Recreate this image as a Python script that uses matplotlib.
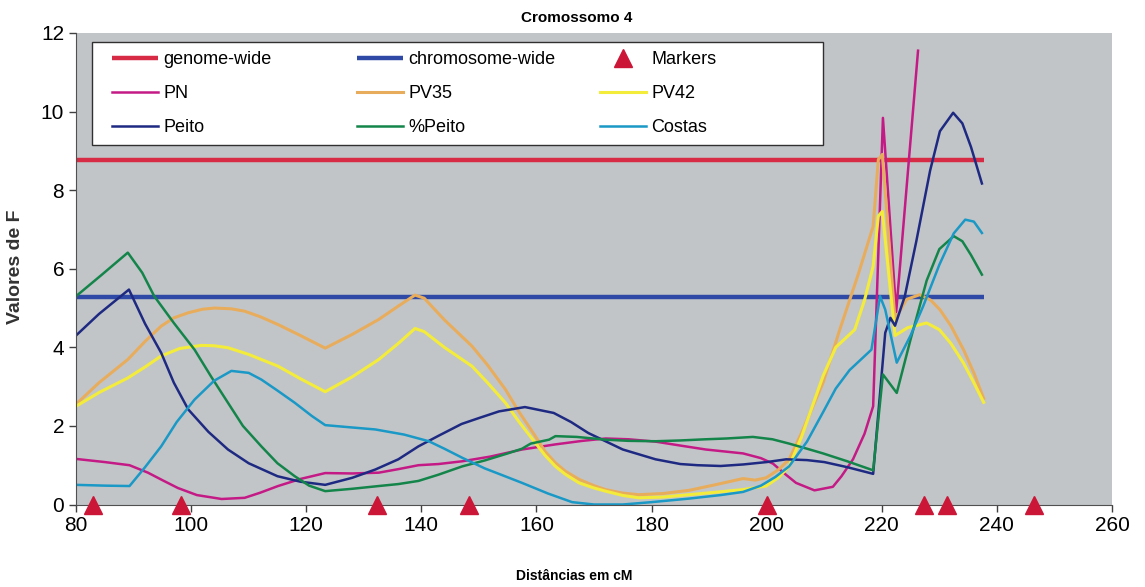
import matplotlib
matplotlib.use("Agg")
import matplotlib.pyplot as plt
from matplotlib.legend import Legend
from matplotlib.patches import Rectangle

plt.rcParams['font.family'] = ['Liberation Sans', 'DejaVu Sans']

# significance thresholds
genomeWide = 8.77
chromWide = 5.28
thresholdX = [80, 237.7]

markersCM = [83.0, 98.2, 132.3, 148.2, 200.0, 227.4, 231.4, 246.5]

peitoX = [80, 84, 89.2, 92, 94.8, 97, 99.5, 103, 106.4, 110, 115, 119, 123.3, 128, 132, 136, 139.5,
          143, 147, 150, 153.5, 158, 163, 166, 169, 175, 180.7, 185, 188, 192, 196, 200, 203.4, 207,
          210, 214, 218.5, 220.6, 221.5, 222.3, 224, 226, 228.4, 230.1, 232.4, 234, 235.5, 237.4]
peitoY = [4.3, 4.85, 5.47, 4.6, 3.86, 3.1, 2.42, 1.85, 1.40, 1.05, 0.72, 0.58, 0.50, 0.68, 0.89, 1.15, 1.48,
          1.75, 2.05, 2.2, 2.37, 2.48, 2.33, 2.1, 1.82, 1.40, 1.15, 1.03, 1.0, 0.98, 1.02, 1.08, 1.15, 1.13,
          1.08, 0.95, 0.78, 4.37, 4.75, 4.55, 5.3, 6.7, 8.5, 9.5, 9.97, 9.7, 9.1, 8.17]

pnX = [80, 85, 89.3, 92.5, 95, 97.7, 101, 105.3, 109.3, 112, 115.1, 119, 123.3, 128, 132.6, 136, 139.5,
       143, 147.1, 152, 157.5, 163.3, 168, 172, 176, 180.7, 185, 189.4, 195.9, 199, 201.1, 203, 205.1,
       208.3, 211.5, 213, 215, 217, 218.5, 220.2, 222.5, 226.3]
pnY = [1.16, 1.08, 1.0, 0.81, 0.62, 0.42, 0.24, 0.14, 0.17, 0.3, 0.47, 0.65, 0.80, 0.79, 0.81, 0.9, 1.0,
       1.03, 1.10, 1.22, 1.40, 1.53, 1.62, 1.68, 1.66, 1.60, 1.50, 1.40, 1.30, 1.18, 1.04, 0.8, 0.55,
       0.36, 0.45, 0.72, 1.15, 1.8, 2.5, 9.84, 4.9, 11.55]

pctPeitoX = [80, 84.5, 89, 91.5, 93.6, 97, 100.6, 103.5, 106.4, 109, 112.2, 115, 118, 120.5, 123.3, 128,
             132.6, 136, 139.5, 143, 147.1, 151, 155, 157.5, 159, 162.2, 163.3, 167, 172, 176, 180.7, 185,
             189.4, 193, 197.6, 201, 203.9, 207, 209.8, 214, 218.5, 220.2, 222.6, 225, 227.8, 230, 232.5,
             234, 235.5, 237.4]
pctPeitoY = [5.3, 5.85, 6.41, 5.9, 5.30, 4.62, 3.94, 3.25, 2.59, 2.0, 1.48, 1.05, 0.72, 0.48, 0.34, 0.40,
             0.47, 0.52, 0.60, 0.76, 0.97, 1.12, 1.30, 1.42, 1.55, 1.65, 1.74, 1.72, 1.65, 1.62, 1.61, 1.63,
             1.66, 1.68, 1.72, 1.66, 1.55, 1.42, 1.30, 1.1, 0.87, 3.31, 2.84, 4.2, 5.7, 6.5, 6.83,
             6.7, 6.35, 5.85]

costasX = [80, 85, 89.3, 92, 94.8, 97.5, 100.6, 104, 107, 110, 112.2, 115, 118, 121, 123.3, 128, 132, 137,
           141.3, 144, 147.1, 151, 154, 157.5, 162, 166.2, 170, 175, 180, 186.5, 192, 195.9, 199, 201.5,
           203.9, 207, 209.8, 212, 214.4, 218.2, 219.7, 220.6, 222.6, 225, 227.2, 230, 232.5, 234.5, 236,
           237.4]
costasY = [0.5, 0.48, 0.47, 0.95, 1.48, 2.1, 2.67, 3.15, 3.40, 3.35, 3.18, 2.9, 2.59, 2.25, 2.02, 1.96, 1.91, 1.78,
           1.61, 1.42, 1.19, 0.92, 0.75, 0.55, 0.28, 0.06, 0.0, 0.0, 0.06, 0.15, 0.24, 0.32, 0.48, 0.7,
           0.97, 1.6, 2.35, 2.95, 3.42, 3.94, 5.3, 4.96, 3.61, 4.3, 5.05, 6.1, 6.9, 7.25, 7.2,
           6.91]

pv35X = [80, 84, 89, 92, 94.8, 97, 99.5, 102, 104.1, 107, 109.3, 112, 115.1, 119, 123.3, 128, 132.6, 136,
         138.9, 140.5, 144, 148.8, 151.5, 154.6, 157, 159.8, 161.5, 163.3, 165, 167.4, 170, 172, 175,
         177.8, 182, 186.5, 191, 195.9, 198, 199.9, 202, 203.9, 206, 209.8, 212.7, 216, 218.5, 219.4,
         220.1, 222.3, 224.3, 226.6, 228.5, 230.1, 232, 234.2, 236, 237.7]
pv35Y = [2.55, 3.1, 3.69, 4.15, 4.54, 4.75, 4.88, 4.97, 5.0, 4.98, 4.92, 4.78, 4.58, 4.3, 3.98, 4.33, 4.71, 5.05,
         5.33, 5.25, 4.7, 4.03, 3.55, 2.93, 2.35, 1.74, 1.35, 1.06, 0.85, 0.64, 0.48, 0.38, 0.29,
         0.25, 0.28, 0.36, 0.5, 0.66, 0.62, 0.68, 0.88, 1.15, 1.8, 3.1, 4.45, 5.9, 7.08, 8.78,
         8.91, 4.7, 5.22, 5.34, 5.2, 4.96, 4.55, 3.94, 3.35, 2.7]

pv42X = [80, 84, 89, 92, 94.8, 98, 101.8, 104, 106.4, 110, 115.1, 119, 123.3, 128, 132.6, 136, 138.9, 140.5,
         144, 148.8, 151.5, 154.6, 157, 159.8, 161.5, 163.3, 165, 167.4, 170, 172, 175, 177.8, 182, 186.5,
         191, 195.9, 199.9, 202, 203.9, 206, 209.8, 212, 215.3, 217, 218.5, 219.4, 220.1, 222.3, 224.5,
         227.8, 230, 232, 234.2, 236, 237.7]
pv42Y = [2.5, 2.85, 3.22, 3.5, 3.78, 3.97, 4.05, 4.04, 3.99, 3.82, 3.52, 3.2, 2.87, 3.25, 3.69, 4.1, 4.48, 4.4,
         4.0, 3.52, 3.1, 2.59, 2.1, 1.57, 1.25, 0.97, 0.77, 0.55, 0.42, 0.34, 0.23, 0.17, 0.19, 0.25,
         0.31, 0.38, 0.47, 0.68, 0.97, 1.7, 3.27, 4.0, 4.45, 5.2, 6.06, 7.34, 7.46, 4.3, 4.5,
         4.62, 4.45, 4.1, 3.6, 3.1, 2.6]

# pixel geometry of the plot box (figure is 1145x587)
AX_L, AX_R, AX_T, AX_B = 76, 1112, 33, 504.5


def px2ax(x, y):
    return (x - AX_L) / (AX_R - AX_L), 1 - (y - AX_T) / (AX_B - AX_T)


def main():
    fig = plt.figure(figsize=(11.45, 5.87), dpi=100)
    ax = fig.add_axes([AX_L / 1145, 1 - AX_B / 587, (AX_R - AX_L) / 1145, (AX_B - AX_T) / 587])
    ax.set_facecolor('#c2c5c8')

    gw, = ax.plot(thresholdX, [genomeWide] * 2, color='#d62a45', lw=3.2, solid_capstyle='butt')
    cw, = ax.plot(thresholdX, [chromWide] * 2, color='#2f4aa6', lw=3.2, solid_capstyle='butt')
    pn, = ax.plot(pnX, pnY, color='#c41a86', lw=1.8)
    pv35, = ax.plot(pv35X, pv35Y, color='#e8ad5c', lw=2.2)
    pv42, = ax.plot(pv42X, pv42Y, color='#f4ec3a', lw=2.2)
    peito, = ax.plot(peitoX, peitoY, color='#1e2a82', lw=1.8)
    pct, = ax.plot(pctPeitoX, pctPeitoY, color='#14854a', lw=1.8)
    costas, = ax.plot(costasX, costasY, color='#1a98c6', lw=1.8)
    mk, = ax.plot(markersCM, [0] * len(markersCM), '^', color='#cc1638', markersize=13,
                  linestyle='none', clip_on=False, zorder=5)

    ax.set_xlim(80, 260)
    ax.set_ylim(0, 12)
    ax.set_xticks(range(80, 261, 20))
    ax.set_yticks(range(0, 13, 2))
    ax.tick_params(labelsize=15, color='#404040', length=5, width=1)
    for side in ['top', 'right']:
        ax.spines[side].set_visible(False)
    for side in ['left', 'bottom']:
        ax.spines[side].set_color('#505050')

    # legend box, then one legend per column so the columns are evenly spaced
    x0, y0 = px2ax(92, 145)
    x1, y1 = px2ax(823, 42)
    ax.add_patch(Rectangle((x0, y0), x1 - x0, y1 - y0, transform=ax.transAxes,
                           facecolor='white', edgecolor='#303030', lw=1.0, zorder=6))
    columns = [([gw, pn, peito], ['genome-wide', 'PN', 'Peito'], 112),
               ([cw, pv35, pct], ['chromosome-wide', 'PV35', '%Peito'], 357),
               ([mk, pv42, costas], ['Markers', 'PV42', 'Costas'], 600)]
    for handles, labels, xpx in columns:
        leg = Legend(ax, handles, labels, loc='upper left', bbox_to_anchor=px2ax(xpx, 51),
                     bbox_transform=ax.transAxes, fontsize=13, frameon=False,
                     handlelength=2.55, handletextpad=0.3, labelspacing=0.95,
                     borderpad=0, borderaxespad=0)
        leg.set_zorder(7)
        ax.add_artist(leg)

    fig.text(577 / 1145, 1 - 18 / 587, 'Cromossomo 4', ha='center', va='center',
             fontsize=11, fontweight='bold')
    fig.text(16 / 1145, 1 - 267 / 587, 'Valores de F', ha='center', va='center',
             rotation=90, fontsize=14, fontweight='bold', color='#333333')
    fig.text(574 / 1145, 1 - 576 / 587, 'Distâncias em cM', ha='center', va='center',
             fontsize=10, fontweight='bold')

    fig.savefig('out.png', dpi=100)


if __name__ == "__main__":
    main()
